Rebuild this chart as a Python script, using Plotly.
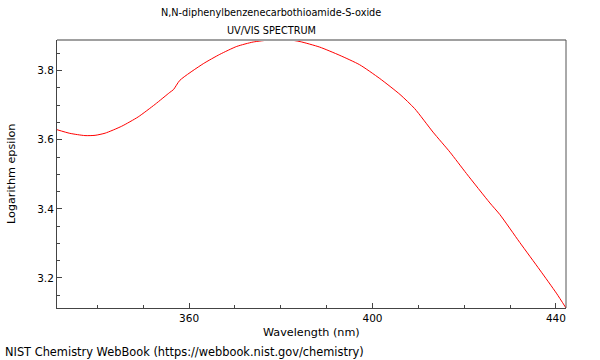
import plotly.graph_objects as go

wavelength = [331.2, 334.0, 337.3, 339.5, 341.7, 345.3, 348.9, 352.6, 355.8, 356.6,
              358.0, 363.1, 366.7, 370.4, 374.0, 377.6, 381.3, 384.2, 388.5, 392.9,
              397.2, 401.6, 406.0, 409.2, 413.2, 416.9, 420.5, 425.6, 427.8, 432.1,
              436.5, 440.1, 442.2]
log_eps = [3.629, 3.6185, 3.612, 3.6127, 3.619, 3.639, 3.666, 3.7025, 3.737, 3.745,
           3.772, 3.820, 3.847, 3.870, 3.8828, 3.8886, 3.890, 3.884, 3.868, 3.844,
           3.817, 3.777, 3.731, 3.690, 3.622, 3.564, 3.502, 3.417, 3.383, 3.303,
           3.223, 3.156, 3.113]

title_lines = ["N,N-diphenylbenzenecarbothioamide-S-oxide", "UV/VIS SPECTRUM"]
x_title = "Wavelength (nm)"
y_title = "Logarithm epsilon"
credit = "NIST Chemistry WebBook (https://webbook.nist.gov/chemistry)"

FONT = "DejaVu Sans"
FONT_C = "DejaVu Sans Condensed, DejaVu Sans"
L, R, T, B = 57, 34, 40, 52
PW, PH = 600 - L - R, 360 - T - B

fig = go.Figure()
fig.add_trace(go.Scatter(x=wavelength, y=log_eps, mode="lines",
                         line=dict(color="#ff0000", width=1, shape="spline", smoothing=0.6),
                         hoverinfo="skip", showlegend=False))

fig.update_layout(
    width=600, height=360,
    margin=dict(l=L, r=R, t=T, b=B, autoexpand=False),
    paper_bgcolor="white", plot_bgcolor="white",
    font=dict(family=FONT, size=11, color="#000"),
    showlegend=False,
)
fig.update_xaxes(
    range=[min(wavelength), max(wavelength)], showgrid=False, zeroline=False,
    automargin=False,
    showline=True, linecolor="#444", linewidth=1,
    ticks="inside", ticklen=5, tickcolor="#444", tickwidth=1,
    tick0=360, dtick=40, tickfont=dict(family=FONT, size=10.5),
    minor=dict(ticks="inside", ticklen=3, tick0=360, dtick=10, tickcolor="#444", showgrid=False),
)
fig.update_yaxes(
    range=[min(log_eps), max(log_eps) - 0.0014], showgrid=False, zeroline=False,
    automargin=False,
    showline=True, linecolor="#444", linewidth=1,
    ticks="inside", ticklen=5, tickcolor="#444", tickwidth=1,
    tick0=3.2, dtick=0.2, tickformat=".1f", tickfont=dict(family=FONT, size=10.5),
    minor=dict(ticks="inside", ticklen=3, tick0=3.2, dtick=0.05, tickcolor="#444", showgrid=False),
)
# gray top and right frame lines
fig.add_shape(type="line", xref="paper", yref="paper", x0=0, x1=1, y0=1, y1=1,
              line=dict(color="#a0a0a0", width=2))
fig.add_shape(type="line", xref="paper", yref="paper", x0=1, x1=1, y0=0, y1=1,
              line=dict(color="#555", width=1))

def px_x(x):
    return (x - L) / PW

def px_y(y):
    return (360 - B - y) / PH

fig.add_annotation(text=title_lines[0], xref="paper", yref="paper", x=px_x(271), y=px_y(13),
                   showarrow=False, xanchor="center", yanchor="middle",
                   font=dict(family=FONT_C, size=10.8))
fig.add_annotation(text=title_lines[1], xref="paper", yref="paper", x=px_x(271), y=px_y(30),
                   showarrow=False, xanchor="center", yanchor="middle",
                   font=dict(family=FONT_C, size=10.8))
fig.add_annotation(text=x_title, xref="paper", yref="paper", x=0.5, y=px_y(332),
                   showarrow=False, xanchor="center", yanchor="middle",
                   font=dict(family=FONT, size=11.2))
fig.add_annotation(text=y_title, xref="paper", yref="paper", x=px_x(11), y=0.5,
                   showarrow=False, xanchor="center", yanchor="middle", textangle=-90,
                   font=dict(family=FONT, size=11.2))
fig.add_annotation(text=credit, xref="paper", yref="paper", x=px_x(3), y=px_y(352),
                   showarrow=False, xanchor="left", yanchor="middle",
                   font=dict(family=FONT, size=11.4))

fig.write_html("out.html", config={"displayModeBar": False},
               post_script="document.body.style.margin='0';document.body.style.padding='0';")
